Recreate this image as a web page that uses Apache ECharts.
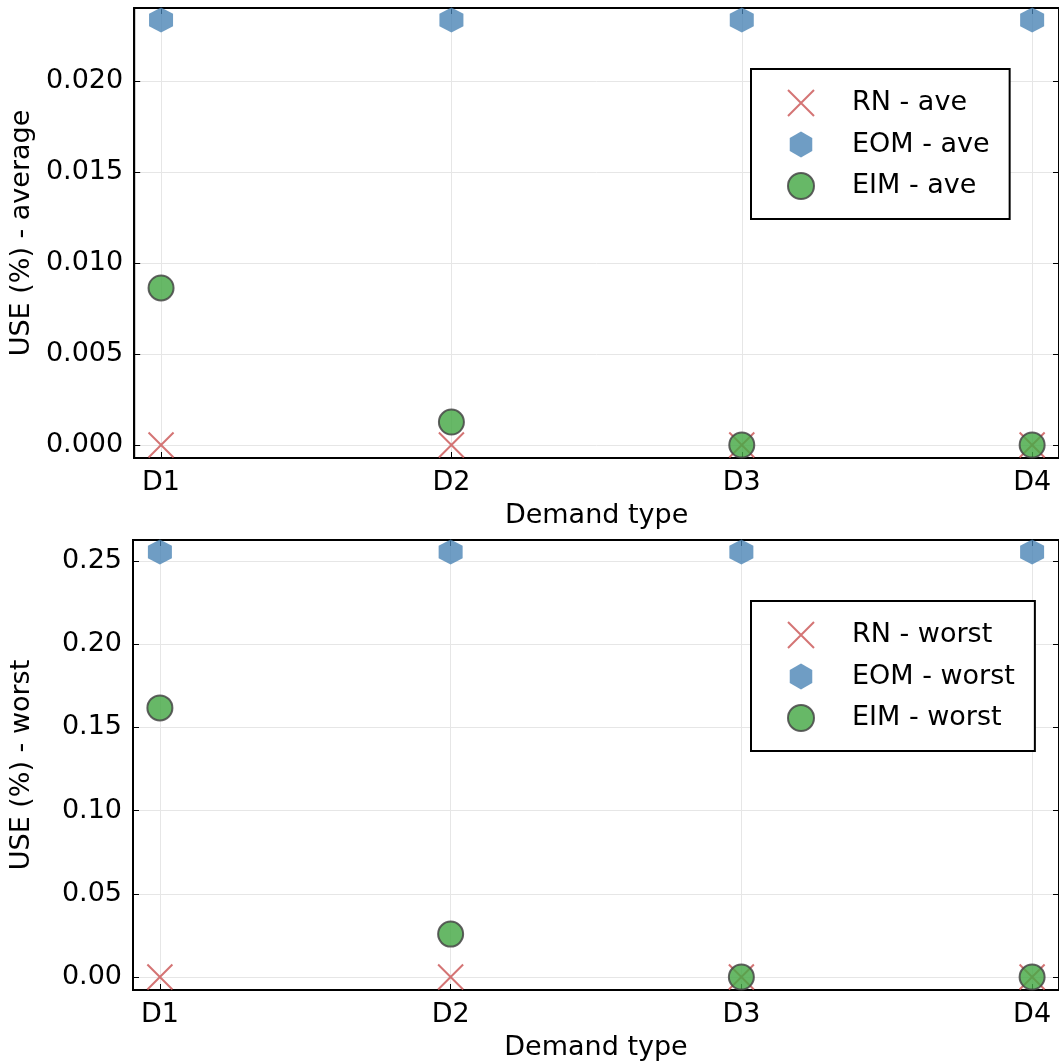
<!DOCTYPE html>
<html>
<head>
<meta charset="utf-8">
<script src="https://cdn.jsdelivr.net/npm/echarts@6/dist/echarts.min.js"></script>
<style>html,body{margin:0;padding:0;background:#fff;}#c{width:1059px;height:1062px;}</style>
</head>
<body>
<div id="c"></div>
<script>
const categories = ['D1', 'D2', 'D3', 'D4'];
const rnAve = [0, 0, 0, 0];
const eomAve = [0.02335, 0.02335, 0.02335, 0.02335];
const eimAve = [0.00863, 0.00126, 0, 0];
const rnWorst = [0, 0, 0, 0];
const eomWorst = [0.2554, 0.2554, 0.2554, 0.2554];
const eimWorst = [0.1617, 0.0258, 0, 0];
const yTicksAve = [0, 0.005, 0.010, 0.015, 0.020];
const yTicksWorst = [0, 0.05, 0.10, 0.15, 0.20, 0.25];
const xTicks = [0, 1, 2, 3];

const FONT = 'DejaVu Sans';
const FS = 27;
const X_PATH = 'path://M0,0L10,10M10,0L0,10';
const HEX_PATH = 'path://M0,-1L0.866,-0.5L0.866,0.5L0,1L-0.866,0.5L-0.866,-0.5Z';
const RN_COLOR = 'rgba(205,92,92,0.85)';
const EOM_COLOR = 'rgba(70,130,180,0.78)';
const EIM_COLOR = 'rgba(70,168,70,0.82)';
const EIM_BORDER = 'rgba(70,70,70,0.85)';
const GRID_COLOR = '#e6e6e6';

function pairs(vals) { return vals.map((v, i) => [i, v]); }

const grids = [
  { left: 133, top: 8, width: 930, height: 450, show: true, borderColor: '#000', borderWidth: 2, backgroundColor: 'transparent' },
  { left: 133, top: 540, width: 930, height: 450, show: true, borderColor: '#000', borderWidth: 2, backgroundColor: 'transparent' }
];

function xAxes(gi) {
  return [
    {
      type: 'value', gridIndex: gi, position: 'bottom', min: -0.0925, max: 3.0925,
      name: 'Demand type', nameLocation: 'middle', nameGap: 44,
      nameTextStyle: { fontFamily: FONT, fontSize: FS, color: '#000' },
      axisLine: { show: true, onZero: false, lineStyle: { color: '#000', width: 2 } },
      axisTick: { show: true, inside: true, length: 6, customValues: xTicks, lineStyle: { color: '#000', width: 1 } },
      axisLabel: { show: true, customValues: xTicks, margin: 11, fontFamily: FONT, fontSize: FS, color: '#000',
        formatter: v => categories[Math.round(v)] },
      splitLine: { show: true, customValues: xTicks, lineStyle: { color: GRID_COLOR, width: 1 } }
    },
    {
      type: 'value', gridIndex: gi, position: 'top', min: -0.0925, max: 3.0925,
      axisLine: { show: false, onZero: false },
      axisTick: { show: true, inside: true, length: 6, customValues: xTicks, lineStyle: { color: '#000', width: 1 } },
      axisLabel: { show: false },
      splitLine: { show: false }
    }
  ];
}

function yAxes(gi, min, max, ticks, dec, name) {
  return [
    {
      type: 'value', gridIndex: gi, position: 'left', min: min, max: max,
      name: name, nameLocation: 'middle', nameGap: 98,
      nameTextStyle: { fontFamily: FONT, fontSize: FS, color: '#000' },
      axisLine: { show: true, onZero: false, lineStyle: { color: '#000', width: 2 } },
      axisTick: { show: true, inside: true, length: 6, customValues: ticks, lineStyle: { color: '#000', width: 1 } },
      axisLabel: { show: true, customValues: ticks, margin: 11, fontFamily: FONT, fontSize: FS, color: '#000',
        formatter: v => v.toFixed(dec) },
      splitLine: { show: true, customValues: ticks, lineStyle: { color: GRID_COLOR, width: 1 } }
    },
    {
      type: 'value', gridIndex: gi, position: 'right', min: min, max: max,
      axisLine: { show: false, onZero: false },
      axisTick: { show: true, inside: true, length: 6, customValues: ticks, lineStyle: { color: '#000', width: 1 } },
      axisLabel: { show: false },
      splitLine: { show: false }
    }
  ];
}

function seriesFor(gi, rn, eom, eim, suffix) {
  const xi = gi * 2, yi = gi * 2;
  return [
    { name: 'RN - ' + suffix, type: 'scatter', xAxisIndex: xi, yAxisIndex: yi, data: pairs(rn),
      symbol: X_PATH, symbolSize: 25, symbolKeepAspect: true,
      itemStyle: { color: 'rgba(0,0,0,0)', borderColor: RN_COLOR, borderWidth: 2, opacity: 1 }, z: 2 },
    { name: 'EOM - ' + suffix, type: 'scatter', xAxisIndex: xi, yAxisIndex: yi, data: pairs(eom),
      symbol: HEX_PATH, symbolSize: [24, 25],
      itemStyle: { color: EOM_COLOR, borderWidth: 0, opacity: 1 }, z: 3 },
    { name: 'EIM - ' + suffix, type: 'scatter', xAxisIndex: xi, yAxisIndex: yi, data: pairs(eim),
      symbol: 'circle', symbolSize: 25,
      itemStyle: { color: EIM_COLOR, borderColor: EIM_BORDER, borderWidth: 2, opacity: 1 }, z: 4 }
  ];
}

function legendFor(gi, left, top, suffix) {
  return {
    orient: 'vertical', left: left, top: top,
    data: ['RN - ' + suffix, 'EOM - ' + suffix, 'EIM - ' + suffix],
    itemWidth: 26, itemHeight: 26, itemGap: 14,
    padding: [20, 20, 19, 36],
    borderColor: '#000', borderWidth: 2, backgroundColor: '#fff',
    selectedMode: false,
    formatter: n => '{t|' + n + '}',
    textStyle: { fontFamily: FONT, fontSize: FS, color: '#000',
      rich: { t: { fontFamily: FONT, fontSize: FS, color: '#000', lineHeight: 26, padding: [0, 0, 0, 33] } } }
  };
}

const option = {
  animation: false,
  backgroundColor: '#fff',
  grid: grids,
  xAxis: [...xAxes(0), ...xAxes(1)],
  yAxis: [
    ...yAxes(0, -0.000714, 0.02401, yTicksAve, 3, 'USE (%) - average'),
    ...yAxes(1, -0.0078, 0.2626, yTicksWorst, 2, 'USE (%) - worst')
  ],
  legend: [legendFor(0, 751, 69, 'ave'), legendFor(1, 751, 601, 'worst')],
  series: [
    ...seriesFor(0, rnAve, eomAve, eimAve, 'ave'),
    ...seriesFor(1, rnWorst, eomWorst, eimWorst, 'worst')
  ]
};

const chart = echarts.init(document.getElementById('c'), null, { renderer: 'canvas' });
chart.setOption(option);
</script>
</body>
</html>
